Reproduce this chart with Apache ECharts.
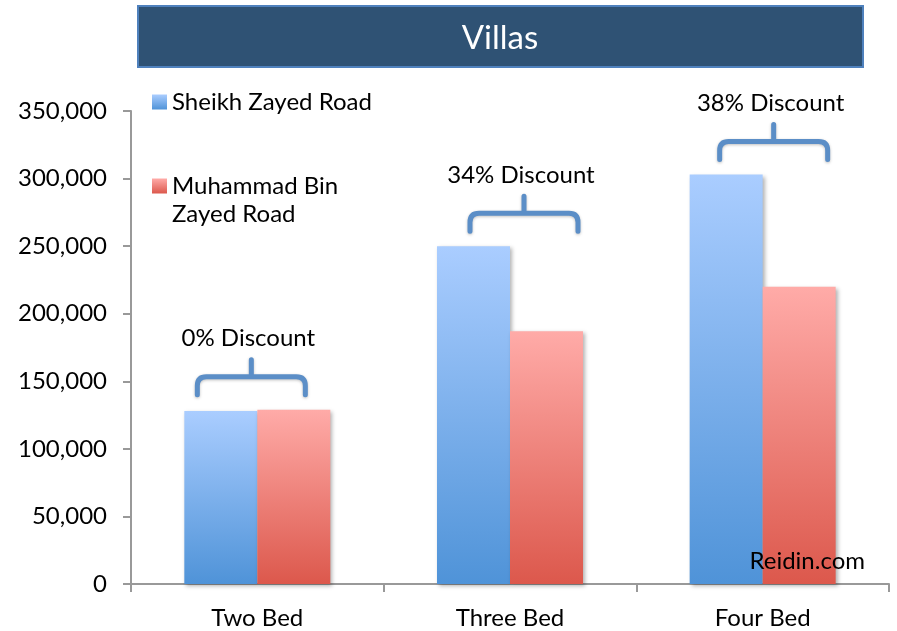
<!DOCTYPE html>
<html>
<head>
<meta charset="utf-8">
<title>Villas</title>
<script src="https://cdn.jsdelivr.net/npm/echarts@6/dist/echarts.min.js"></script>
<style>
  html, body { margin: 0; padding: 0; background: #fff; }
  #chart { width: 897px; height: 631px; }
</style>
</head>
<body>
<div id="chart"></div>
<script>
const categories = ['Two Bed', 'Three Bed', 'Four Bed']
const sheikhZayed = [128000, 250000, 303000]
const muhammadBinZayed = [129000, 187000, 220000]
const discountLabels = ['0% Discount', '34% Discount', '38% Discount']

// bracket horizontal nudge per category (px), styling only
const bracketShift = [-6, 14, 11]

const FONT = 'Lato, "Noto Sans", sans-serif'

const chart = echarts.init(document.getElementById('chart'))

const bracketData = categories.map((c, i) => [i, Math.max(sheikhZayed[i], muhammadBinZayed[i]), discountLabels[i]])

function renderBracket(params, api) {
  const idx = api.value(0)
  const pt = api.coord([idx, api.value(1)])
  const cx = pt[0] + bracketShift[idx]
  const yb = pt[1]
  const yE = yb - 15
  const yH = yb - 33
  const yP = yb - 50
  const hw = 54
  const r = 9
  const d = [
    'M', cx - hw, yE,
    'L', cx - hw, yH + r,
    'Q', cx - hw, yH, cx - hw + r, yH,
    'L', cx + hw - r, yH,
    'Q', cx + hw, yH, cx + hw, yH + r,
    'L', cx + hw, yE,
    'M', cx, yH,
    'L', cx, yP
  ].join(' ')
  return {
    type: 'group',
    children: [
      {
        type: 'path',
        shape: { pathData: d },
        style: {
          fill: null,
          stroke: '#5b8ec7',
          lineWidth: 5,
          lineCap: 'round',
          lineJoin: 'round',
          shadowColor: 'rgba(0,0,0,0.25)',
          shadowBlur: 3,
          shadowOffsetY: 1
        }
      },
      {
        type: 'text',
        style: {
          text: api.value(2),
          x: cx - 3,
          y: yb - 71,
          align: 'center',
          verticalAlign: 'middle',
          fill: '#000',
          font: '24px ' + FONT
        }
      }
    ]
  }
}

function grad(top, bottom) {
  return new echarts.graphic.LinearGradient(0, 0, 0, 1, [
    { offset: 0, color: top },
    { offset: 1, color: bottom }
  ])
}

const barShadow = {
  shadowColor: 'rgba(0,0,0,0.3)',
  shadowBlur: 4,
  shadowOffsetX: 2,
  shadowOffsetY: 2
}

chart.setOption({
  animation: false,
  textStyle: { fontFamily: FONT },
  graphic: [
    {
      type: 'group',
      left: 137,
      top: 5,
      z: 10,
      children: [
        {
          type: 'rect',
          shape: { x: 0, y: 0, width: 725, height: 61 },
          style: { fill: '#2f5274', stroke: '#4f81bd', lineWidth: 2 }
        },
        {
          type: 'text',
          style: {
            text: 'Villas',
            x: 362,
            y: 32,
            align: 'center',
            verticalAlign: 'middle',
            fill: '#fff',
            font: '33px ' + FONT
          }
        }
      ]
    },
    {
      type: 'text',
      right: 32,
      top: 549,
      style: { text: 'Reidin.com', fill: '#000', font: '24px ' + FONT },
      z: 20
    }
  ],
  legend: [
    {
      data: ['Sheikh Zayed Road'],
      left: 152,
      top: 88,
      padding: 0,
      icon: 'rect',
      itemWidth: 15,
      itemHeight: 15,
      itemGap: 7,
      textStyle: { fontSize: 24, lineHeight: 28, color: '#000', fontFamily: FONT }
    },
    {
      data: ['Muhammad Bin Zayed Road'],
      left: 152,
      top: 144,
      padding: 0,
      icon: 'rect',
      itemWidth: 15,
      itemHeight: 15,
      formatter: () => '\nMuhammad Bin\nZayed Road',
      textStyle: { fontSize: 24, lineHeight: 28, color: '#000', fontFamily: FONT }
    }
  ],
  grid: { left: 131, right: 8, top: 111, bottom: 47 },
  xAxis: {
    type: 'category',
    data: categories,
    axisLine: { lineStyle: { color: '#999', width: 2 } },
    axisTick: { show: true, length: 8, lineStyle: { color: '#999', width: 2 } },
    axisLabel: { fontSize: 24, color: '#000', margin: 22, fontFamily: FONT }
  },
  yAxis: {
    type: 'value',
    min: 0,
    max: 350000,
    interval: 50000,
    splitLine: { show: false },
    axisLine: { show: true, lineStyle: { color: '#999', width: 2 } },
    axisTick: { show: true, length: 8, lineStyle: { color: '#999', width: 2 } },
    axisLabel: {
      fontSize: 24,
      color: '#000',
      margin: 24,
      fontFamily: FONT,
      formatter: v => v.toLocaleString('en-US')
    }
  },
  series: [
    {
      name: 'Sheikh Zayed Road',
      type: 'bar',
      data: sheikhZayed,
      barWidth: 73,
      barGap: '0%',
      itemStyle: Object.assign({ color: grad('#aacdff', '#4f93d8') }, barShadow)
    },
    {
      name: 'Muhammad Bin Zayed Road',
      type: 'bar',
      data: muhammadBinZayed,
      barWidth: 73,
      barGap: '0%',
      itemStyle: Object.assign({ color: grad('#ffaba8', '#dc584c') }, barShadow)
    },
    {
      type: 'custom',
      data: bracketData,
      renderItem: renderBracket,
      clip: false,
      silent: true,
      z: 5
    }
  ]
})
</script>
</body>
</html>
